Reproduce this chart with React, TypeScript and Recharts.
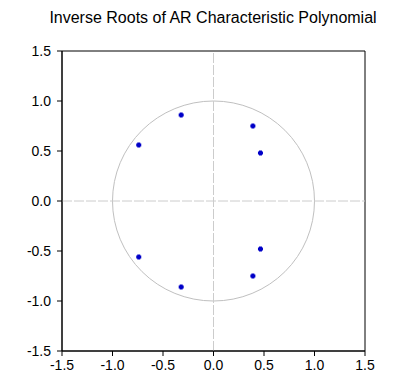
import React from "react";
import {
  ScatterChart,
  Scatter,
  XAxis,
  YAxis,
  ReferenceLine,
  ReferenceArea,
} from "recharts";

const title = "Inverse Roots of AR Characteristic Polynomial";
const realParts = [-0.32, 0.39, -0.74, 0.465, -0.74, 0.465, 0.39, -0.32];
const imagParts = [0.86, 0.75, 0.56, 0.48, -0.56, -0.48, -0.75, -0.86];
const xTicks = [-1.5, -1.0, -0.5, 0.0, 0.5, 1.0, 1.5];
const yTicks = [-1.5, -1.0, -0.5, 0.0, 0.5, 1.0, 1.5];

const roots = realParts.map((re, i) => ({ re, im: imagParts[i] }));

const FONT = "Arial, 'Liberation Sans', sans-serif";

const Ellipse = (props: any) => {
  const { x, y, width, height } = props;
  return (
    <ellipse
      cx={x + width / 2}
      cy={y + height / 2}
      rx={width / 2}
      ry={height / 2}
      fill="none"
      stroke="#c0c0c0"
      strokeWidth={1}
    />
  );
};

const Dot = (props: any) => {
  const { cx, cy } = props;
  return (
    <path
      d={`M${cx - 1.5},${cy - 2.5}h3v1h1v3h-1v1h-3v-1h-1v-3h1z`}
      fill="#0000c8"
    />
  );
};

export default function App() {
  return (
    <div
      style={{
        position: "absolute",
        left: 0,
        top: 0,
        width: 399,
        height: 383,
        background: "#fff",
        fontFamily: FONT,
      }}
    >
      <div
        style={{
          position: "absolute",
          left: 0,
          width: 426,
          top: 8,
          textAlign: "center",
          fontSize: 16,
          lineHeight: "20px",
          color: "#000",
        }}
      >
        {title}
      </div>
      <ScatterChart
        width={399}
        height={383}
        margin={{ top: 51, right: 34, bottom: 0, left: 0 }}
      >
        <XAxis
          type="number"
          dataKey="re"
          domain={[-1.5, 1.5]}
          ticks={xTicks}
          allowDataOverflow
          height={32}
          tickFormatter={(v: number) => v.toFixed(1)}
          tick={{ fill: "#000", fontSize: 14, fontFamily: FONT }}
          tickSize={5}
          tickMargin={4}
          axisLine={{ stroke: "#000" }}
          tickLine={{ stroke: "#000" }}
        />
        <YAxis
          type="number"
          dataKey="im"
          domain={[-1.5, 1.5]}
          ticks={yTicks}
          allowDataOverflow
          width={62}
          tickFormatter={(v: number) => v.toFixed(1)}
          tick={{ fill: "#000", fontSize: 14, fontFamily: FONT }}
          tickSize={5}
          tickMargin={6}
          axisLine={{ stroke: "#000" }}
          tickLine={{ stroke: "#000" }}
        />
        <ReferenceLine x={0} stroke="#cccccc" strokeDasharray="10 2" />
        <ReferenceLine y={0} stroke="#cccccc" strokeDasharray="10 2" />
        <ReferenceArea
          x1={-1}
          x2={1}
          y1={-1}
          y2={1}
          shape={Ellipse}
        />
        <ReferenceArea
          x1={-1.5}
          x2={1.5}
          y1={-1.5}
          y2={1.5}
          fill="none"
          fillOpacity={0}
          stroke="#000"
          strokeWidth={1}
        />
        <Scatter data={roots} shape={Dot} isAnimationActive={false} />
      </ScatterChart>
    </div>
  );
}
